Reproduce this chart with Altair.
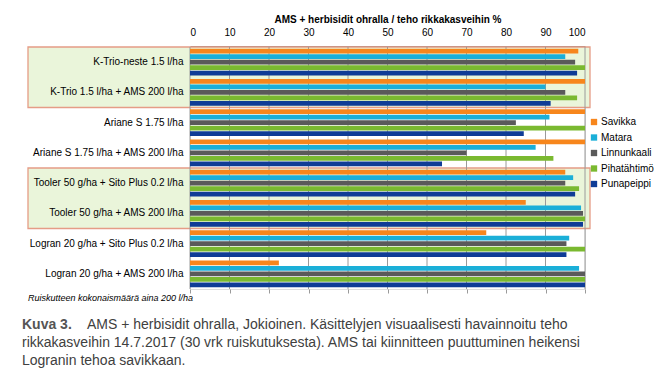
import altair as alt
import pandas as pd

categories = [
    "K-Trio-neste 1.5 l/ha",
    "K-Trio 1.5 l/ha + AMS 200 l/ha",
    "Ariane S 1.75 l/ha",
    "Ariane S 1.75 l/ha + AMS 200 l/ha",
    "Tooler 50 g/ha + Sito Plus 0.2 l/ha",
    "Tooler 50 g/ha + AMS 200 l/ha",
    "Logran 20 g/ha + Sito Plus 0.2 l/ha",
    "Logran 20 g/ha + AMS 200 l/ha",
]
series = ["Savikka", "Matara", "Linnunkaali", "Pihatähtimö", "Punapeippi"]
savikka = [98.3, 100, 100, 100, 95, 85, 75, 22.5]
matara = [95, 90, 91, 87.5, 97, 99, 96, 98.5]
linnunkaali = [97.5, 95, 82.5, 70, 95, 99.5, 95.3, 100]
pihatahtimo = [100, 98, 100, 92, 98.5, 100, 100, 100]
punapeippi = [98, 91.3, 84.5, 63.8, 97.5, 99.5, 95.3, 100]
colors = ["#F7861C", "#1BAFD8", "#5A5A5A", "#7AB930", "#0F3C96"]
ticks = [0, 10, 20, 30, 40, 50, 60, 70, 80, 90, 100]
boxes_start = ["K-Trio-neste 1.5 l/ha", "Tooler 50 g/ha + Sito Plus 0.2 l/ha"]
boxes_end = ["K-Trio 1.5 l/ha + AMS 200 l/ha", "Tooler 50 g/ha + AMS 200 l/ha"]

FONT = "Liberation Sans, Arial, sans-serif"

rows = []
for name, vals in zip(series, [savikka, matara, linnunkaali, pihatahtimo, punapeippi]):
    for c, v in zip(categories, vals):
        rows.append({"cat": c, "series": name, "value": v})
df = pd.DataFrame(rows)

xscale = alt.Scale(domain=[0, 100], nice=False, zero=True)
yscale = alt.Scale(domain=categories, paddingInner=0, paddingOuter=0)
yaxis = alt.Axis(
    title=None, ticks=False, domain=False, labelFont=FONT, labelFontSize=10,
    labelColor="#000000", labelPadding=7, zindex=1, labelLimit=300)

box_df = pd.DataFrame({"start": boxes_start, "end": boxes_end})
boxes = alt.Chart(box_df).mark_rect(
    fill="#EAF5DA", stroke="#E59C86", strokeWidth=1.3
).encode(
    y=alt.Y("start:N", scale=yscale, bandPosition=0, axis=yaxis),
    y2=alt.Y2("end:N", bandPosition=1),
    x=alt.value(-162),
    x2=alt.value(400),
)

grid = alt.Chart(pd.DataFrame({"t": ticks})).mark_rule(
    color="#9A9A9A", strokeWidth=1
).encode(
    x=alt.X("t:Q", scale=xscale, axis=alt.Axis(
        orient="bottom", labels=False, domain=False, ticks=True,
        tickSize=4, tickColor="#9A9A9A", grid=False, title=None, values=ticks)),
    y=alt.value(0),
    y2=alt.value(242),
)

bars = alt.Chart(df).mark_bar().encode(
    x=alt.X("value:Q", scale=xscale, axis=alt.Axis(
        orient="top", values=ticks, grid=False, ticks=False,
        domainColor="#7F7F7F", domainWidth=3, labelFont=FONT, labelFontSize=10,
        labelColor="#000000", labelPadding=10,
        title="AMS + herbisidit ohralla / teho rikkakasveihin %",
        titleFont=FONT, titleFontSize=10, titleFontWeight="bold",
        titleColor="#000000", titlePadding=3)),
    y=alt.Y("cat:N", scale=yscale, sort=categories, axis=yaxis),
    yOffset=alt.YOffset("series:N", sort=series,
                        scale=alt.Scale(domain=series, paddingInner=0.15, paddingOuter=0.3)),
    color=alt.Color("series:N", scale=alt.Scale(domain=series, range=colors),
                    legend=alt.Legend(
                        orient="none", legendX=399, legendY=70, title=None,
                        symbolType="square", symbolSize=40, symbolStrokeWidth=0,
                        labelFont=FONT, labelFontSize=10, labelColor="#000000",
                        rowPadding=5.5, labelOffset=2, padding=0)),
)

def txt(s, x, y, size, weight="normal", style="normal", color="#333333"):
    return alt.Chart(pd.DataFrame({"t": [s]})).mark_text(
        align="left", baseline="alphabetic", font=FONT, fontSize=size,
        fontWeight=weight, fontStyle=style, color=color
    ).encode(text="t:N", x=alt.value(x), y=alt.value(y))

note = txt("Ruiskutteen kokonaismäärä aina 200 l/ha", -162, 254, 9, style="italic", color="#000000")
c1 = txt("Kuva 3.", -168, 282, 14, weight="bold", color="#555555")
c1b = txt("AMS + herbisidit ohralla, Jokioinen. Käsittelyjen visuaalisesti havainnoitu teho",
          -103, 282, 14, color="#404040")
c2 = txt("rikkakasveihin 14.7.2017 (30 vrk ruiskutuksesta). AMS tai kiinnitteen puuttuminen heikensi",
         -168, 300, 14, color="#404040")
c3 = txt("Logranin tehoa savikkaan.", -168, 318, 14, color="#404040")

chart = alt.layer(boxes, grid, bars, note, c1, c1b, c2, c3).resolve_axis(
    x="independent"
).properties(
    width=395, height=242,
    padding={"left": 182, "top": 39, "right": 71, "bottom": 79},
    autosize=alt.AutoSizeParams(type="none"),
).configure_view(stroke=None).configure(background="white")

chart.save("out.html", embed_options={"renderer": "svg", "actions": False})
